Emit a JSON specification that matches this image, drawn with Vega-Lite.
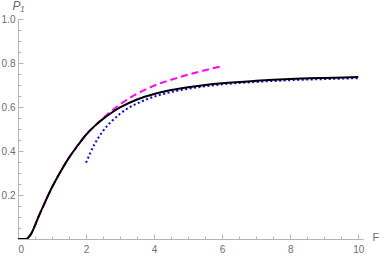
{
  "$schema": "https://vega.github.io/schema/vega-lite/v6.json",
  "width": 345,
  "height": 220,
  "autosize": {"type": "none"},
  "padding": {"left": 18, "top": 19, "right": 19, "bottom": 19},
  "background": "white",
  "config": {
    "view": {"stroke": null},
    "axis": {
      "grid": false,
      "domainColor": "#b5b5b5",
      "tickColor": "#b5b5b5",
      "labelColor": "#6e6e6e",
      "labelFont": "Liberation Sans",
      "labelFontSize": 10,
      "titleFont": "Liberation Sans",
      "titleFontWeight": "normal",
      "titleColor": "#6e6e6e",
      "domainWidth": 1,
      "tickWidth": 1
    }
  },
  "datasets": {
    "exact": [
      {"F": 0, "P": 0}, {"F": 0.1, "P": 0}, {"F": 0.2, "P": 0}, {"F": 0.25, "P": 0.001},
      {"F": 0.3, "P": 0.006}, {"F": 0.35, "P": 0.015}, {"F": 0.4, "P": 0.027}, {"F": 0.5, "P": 0.062},
      {"F": 0.6, "P": 0.1}, {"F": 0.75, "P": 0.152}, {"F": 1, "P": 0.235}, {"F": 1.25, "P": 0.306},
      {"F": 1.5, "P": 0.37}, {"F": 1.75, "P": 0.424}, {"F": 2, "P": 0.474}, {"F": 2.25, "P": 0.513},
      {"F": 2.5, "P": 0.546}, {"F": 2.75, "P": 0.574}, {"F": 3, "P": 0.598}, {"F": 3.5, "P": 0.634},
      {"F": 4, "P": 0.659}, {"F": 4.5, "P": 0.677}, {"F": 5, "P": 0.69}, {"F": 5.5, "P": 0.7},
      {"F": 6, "P": 0.708}, {"F": 7, "P": 0.719}, {"F": 8, "P": 0.727}, {"F": 9, "P": 0.732},
      {"F": 10, "P": 0.736}
    ],
    "small": [
      {"F": 0, "P": 0}, {"F": 0.1, "P": 0}, {"F": 0.2, "P": 0}, {"F": 0.25, "P": 0.001},
      {"F": 0.3, "P": 0.006}, {"F": 0.35, "P": 0.015}, {"F": 0.4, "P": 0.027}, {"F": 0.5, "P": 0.062},
      {"F": 0.6, "P": 0.1}, {"F": 0.75, "P": 0.152}, {"F": 1, "P": 0.235}, {"F": 1.25, "P": 0.306},
      {"F": 1.5, "P": 0.37}, {"F": 1.75, "P": 0.424}, {"F": 2, "P": 0.474}, {"F": 2.25, "P": 0.513},
      {"F": 2.5, "P": 0.549}, {"F": 2.75, "P": 0.582}, {"F": 3, "P": 0.612}, {"F": 3.5, "P": 0.66},
      {"F": 4, "P": 0.697}, {"F": 4.5, "P": 0.724}, {"F": 5, "P": 0.747}, {"F": 5.5, "P": 0.767},
      {"F": 6, "P": 0.786}
    ],
    "large": [
      {"F": 2, "P": 0.347}, {"F": 2.25, "P": 0.431}, {"F": 2.5, "P": 0.491}, {"F": 2.75, "P": 0.535},
      {"F": 3, "P": 0.569}, {"F": 3.25, "P": 0.596}, {"F": 3.5, "P": 0.616}, {"F": 4, "P": 0.647},
      {"F": 4.5, "P": 0.668}, {"F": 5, "P": 0.683}, {"F": 5.5, "P": 0.694}, {"F": 6, "P": 0.703},
      {"F": 7, "P": 0.714}, {"F": 8, "P": 0.722}, {"F": 9, "P": 0.727}, {"F": 10, "P": 0.731}
    ]
  },
  "resolve": {"axis": {"x": "independent", "y": "independent"}},
  "layer": [
    {
      "data": {"name": "small"},
      "mark": {"type": "line", "color": "#ff00ff", "strokeWidth": 2, "strokeDash": [7, 4], "interpolate": "monotone", "clip": true},
      "encoding": {
        "x": {"field": "F", "type": "quantitative", "scale": {"domain": [0, 10.14], "nice": false, "zero": false},
          "axis": {"orient": "bottom", "values": [0.5, 1, 1.5, 2.5, 3, 3.5, 4.5, 5, 5.5, 6.5, 7, 7.5, 8.5, 9, 9.5], "tickSize": -3, "labels": false, "domain": false, "title": null}},
        "y": {"field": "P", "type": "quantitative", "scale": {"domain": [0, 1], "nice": false, "zero": false},
          "axis": {"orient": "left", "values": [0.05, 0.1, 0.15, 0.25, 0.3, 0.35, 0.45, 0.5, 0.55, 0.65, 0.7, 0.75, 0.85, 0.9, 0.95], "tickSize": -3, "labels": false, "domain": false, "title": null}}
      }
    },
    {
      "data": {"name": "large"},
      "mark": {"type": "line", "color": "#0000ff", "strokeWidth": 2, "strokeDash": [2, 2.5], "interpolate": "monotone", "clip": true},
      "encoding": {
        "x": {"field": "F", "type": "quantitative", "scale": {"domain": [0, 10.14], "nice": false, "zero": false}, "axis": null},
        "y": {"field": "P", "type": "quantitative", "scale": {"domain": [0, 1], "nice": false, "zero": false}, "axis": null}
      }
    },
    {
      "data": {"name": "exact"},
      "mark": {"type": "line", "color": "#000000", "strokeWidth": 2, "interpolate": "monotone", "clip": true},
      "encoding": {
        "x": {"field": "F", "type": "quantitative", "scale": {"domain": [0, 10.14], "nice": false, "zero": false},
          "axis": {"orient": "bottom", "values": [0, 2, 4, 6, 8, 10], "format": "d", "tickSize": -5, "labelPadding": 10,
            "title": "F", "titleX": 354, "titleY": -2, "titleAlign": "left", "titleBaseline": "middle", "titleFontSize": 11}},
        "y": {"field": "P", "type": "quantitative", "scale": {"domain": [0, 1], "nice": false, "zero": false},
          "axis": {"orient": "left", "values": [0.2, 0.4, 0.6, 0.8, 1.0], "format": ".1f", "tickSize": -5, "labelPadding": 8,
            "title": "P₁", "titleAngle": 0, "titleX": -6, "titleY": -19, "titleAlign": "left", "titleBaseline": "top", "titleFontStyle": "italic", "titleFontSize": 12}}
      }
    }
  ]
}
